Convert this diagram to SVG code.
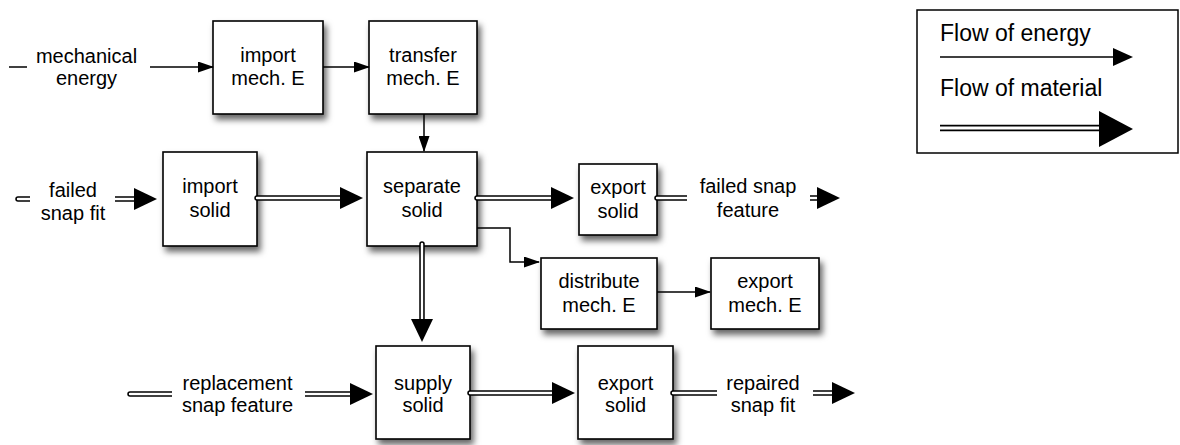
<svg xmlns="http://www.w3.org/2000/svg" width="1180" height="445" viewBox="0 0 1180 445">
  <style>
    text { font-family: "Liberation Sans", Arial, sans-serif; font-size: 20px; fill: #000; }
    .node rect { fill: #fff; stroke: #000; stroke-width: 1.6; filter: url(#shadow); }
    .node text, .label text { text-anchor: middle; }
    .label rect { fill: #fff; stroke: none; }
    .energy { fill: none; stroke: #000; stroke-width: 1.5; marker-end: url(#ah-energy); }
    .mat-out { fill: none; stroke: #000; stroke-width: 5.5; stroke-linecap: round; }
    .mat-in { fill: none; stroke: #fff; stroke-width: 2.4; stroke-linecap: round; marker-end: url(#ah-mat); }
    .legend text { font-size: 23px; }
  </style>
  <defs>
    <filter id="shadow" x="-20%" y="-20%" width="150%" height="150%">
      <feDropShadow dx="3" dy="5" stdDeviation="3" flood-color="#000" flood-opacity="0.6"/>
    </filter>
    <marker id="ah-energy" viewBox="0 0 16 11" markerWidth="16" markerHeight="11" refX="15" refY="5.5" markerUnits="userSpaceOnUse" orient="auto">
      <path d="M0,0 L16,5.5 L0,11 Z" fill="#000"/>
    </marker>
    <marker id="ah-mat" viewBox="0 0 23 22" markerWidth="23" markerHeight="22" refX="12" refY="11" markerUnits="userSpaceOnUse" orient="auto">
      <path d="M0,0 L23,11 L0,22 Z" fill="#000"/>
    </marker>
  </defs>

  <!-- function blocks -->
  <g id="import-mech-e" class="node">
    <rect x="213" y="21" width="110" height="93"/>
    <text x="268" y="62">import</text>
    <text x="268" y="85">mech. E</text>
  </g>
  <g id="transfer-mech-e" class="node">
    <rect x="369" y="21" width="108" height="93"/>
    <text x="423" y="62">transfer</text>
    <text x="423" y="85">mech. E</text>
  </g>
  <g id="import-solid" class="node">
    <rect x="163" y="152" width="94" height="94"/>
    <text x="210" y="193">import</text>
    <text x="210" y="217">solid</text>
  </g>
  <g id="separate-solid" class="node">
    <rect x="367" y="152" width="110" height="94"/>
    <text x="422" y="193">separate</text>
    <text x="422" y="217">solid</text>
  </g>
  <g id="export-solid-1" class="node">
    <rect x="579" y="164" width="78" height="71"/>
    <text x="618" y="194">export</text>
    <text x="618" y="218">solid</text>
  </g>
  <g id="distribute-mech-e" class="node">
    <rect x="541" y="258" width="116" height="71"/>
    <text x="599" y="288">distribute</text>
    <text x="599" y="312">mech. E</text>
  </g>
  <g id="export-mech-e" class="node">
    <rect x="711" y="258" width="108" height="71"/>
    <text x="765" y="288">export</text>
    <text x="765" y="312">mech. E</text>
  </g>
  <g id="supply-solid" class="node">
    <rect x="376" y="346" width="94" height="93"/>
    <text x="423" y="390">supply</text>
    <text x="423" y="412">solid</text>
  </g>
  <g id="export-solid-2" class="node">
    <rect x="578" y="346" width="95" height="93"/>
    <text x="625.5" y="390">export</text>
    <text x="625.5" y="412">solid</text>
  </g>

  <!-- connectors -->
  <g id="connectors">
    <path class="energy" d="M9,67 H213"/>
    <path class="energy" d="M323,67 H369"/>
    <path class="energy" d="M424,114 V151"/>
    <path class="energy" d="M477,228 H510 V262 H539"/>
    <path class="energy" d="M657,292 H710"/>

    <path class="mat-out" d="M18,199 H146"/>
    <path class="mat-in" d="M18,199 H146"/>
    <path class="mat-out" d="M257,198 H352"/>
    <path class="mat-in" d="M257,198 H352"/>
    <path class="mat-out" d="M477,198 H563"/>
    <path class="mat-in" d="M477,198 H563"/>
    <path class="mat-out" d="M657,198 H829"/>
    <path class="mat-in" d="M657,198 H829"/>
    <path class="mat-out" d="M422,244 V331"/>
    <path class="mat-in" d="M422,244 V331"/>
    <path class="mat-out" d="M130,394 H362"/>
    <path class="mat-in" d="M130,394 H362"/>
    <path class="mat-out" d="M470,393 H564"/>
    <path class="mat-in" d="M470,393 H564"/>
    <path class="mat-out" d="M673,393 H844"/>
    <path class="mat-in" d="M673,393 H844"/>
  </g>

  <!-- flow labels -->
  <g id="lbl-mechanical-energy" class="label">
    <rect x="27" y="44" width="123" height="48"/>
    <text x="86.5" y="63">mechanical</text>
    <text x="86.5" y="85">energy</text>
  </g>
  <g id="lbl-failed-snap-fit" class="label">
    <rect x="30" y="178" width="85" height="48"/>
    <text x="73" y="197">failed</text>
    <text x="73" y="220">snap fit</text>
  </g>
  <g id="lbl-failed-snap-feature" class="label">
    <rect x="687" y="174" width="123" height="48"/>
    <text x="748" y="193">failed snap</text>
    <text x="748" y="217">feature</text>
  </g>
  <g id="lbl-replacement" class="label">
    <rect x="172" y="371" width="133" height="48"/>
    <text x="237.5" y="390">replacement</text>
    <text x="237.5" y="412">snap feature</text>
  </g>
  <g id="lbl-repaired" class="label">
    <rect x="717" y="371" width="96" height="48"/>
    <text x="763" y="390">repaired</text>
    <text x="763" y="412">snap fit</text>
  </g>

  <!-- key -->
  <g id="legend" class="legend">
    <rect x="917" y="10" width="261" height="143" fill="#fff" stroke="#000" stroke-width="1.5"/>
    <text x="940" y="41">Flow of energy</text>
    <line x1="940" y1="57" x2="1114" y2="57" stroke="#000" stroke-width="1.5"/>
    <path d="M1113,48 L1133,57 L1113,66 Z" fill="#000"/>
    <text x="940" y="96">Flow of material</text>
    <line x1="940" y1="128" x2="1102" y2="128" stroke="#000" stroke-width="6.5"/>
    <line x1="940" y1="128" x2="1102" y2="128" stroke="#fff" stroke-width="3.2"/>
    <path d="M1099,111 L1133,129 L1099,147 Z" fill="#000"/>
  </g>
</svg>
